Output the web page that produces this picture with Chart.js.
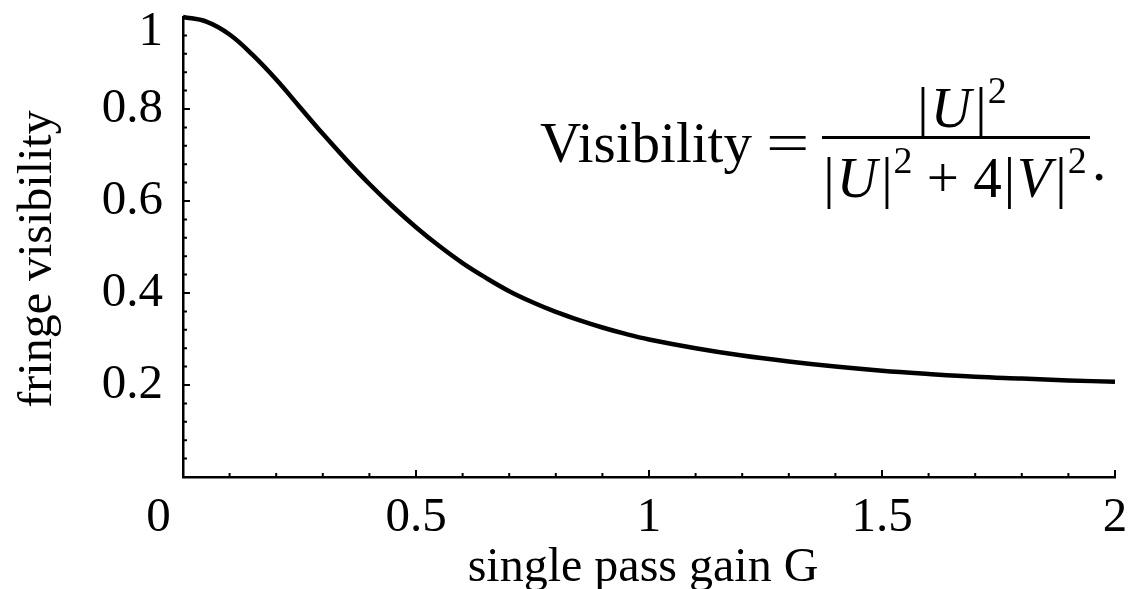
<!DOCTYPE html>
<html>
<head>
<meta charset="utf-8">
<script src="https://cdn.jsdelivr.net/npm/chart.js@4.4.0/dist/chart.umd.min.js"></script>
<style>
  html, body { margin: 0; padding: 0; background: #fff; }
  #wrap { width: 1128px; height: 589px; }
</style>
</head>
<body>
<div id="wrap"><canvas id="chart"></canvas></div>
<script>
// values
const gain = [0, 0.05, 0.1, 0.15, 0.2, 0.25, 0.3, 0.35, 0.4, 0.45, 0.5,
              0.55, 0.6, 0.65, 0.7, 0.75, 0.8, 0.85, 0.9, 0.95, 1.0,
              1.1, 1.2, 1.3, 1.4, 1.5, 1.6, 1.7, 1.8, 1.9, 2.0];
const visibility = [1.000, 0.990, 0.962, 0.917, 0.864, 0.805, 0.746, 0.690, 0.637, 0.588, 0.543,
                    0.502, 0.465, 0.433, 0.404, 0.380, 0.359, 0.341, 0.325, 0.311, 0.299,
                    0.280, 0.264, 0.251, 0.240, 0.231, 0.224, 0.218, 0.214, 0.210, 0.207];
const xTicks = [0, 0.5, 1, 1.5, 2];
const yTicks = [0.2, 0.4, 0.6, 0.8, 1];
const xMinorStep = 0.1;
const yMinorStep = 0.04;

const serif = '"Liberation Serif", "Times New Roman", serif';

// ticks drawn inward from the axes, like the original
const innerTicks = {
  id: "innerTicks",
  afterDraw(chart) {
    const ctx = chart.ctx;
    const x = chart.scales.x, y = chart.scales.y;
    const area = chart.chartArea;
    ctx.save();
    ctx.strokeStyle = "#000";
    ctx.lineWidth = 2;
    ctx.beginPath();
    for (let i = 1; i * xMinorStep <= 2 + 1e-9; i++) {
      const major = i % 5 === 0;
      const px = x.getPixelForValue(i * xMinorStep);
      ctx.moveTo(px, area.bottom);
      ctx.lineTo(px, area.bottom - (major ? 7 : 4));
    }
    for (let i = 1; i * yMinorStep <= 1 + 1e-9; i++) {
      const major = i % 5 === 0;
      const py = y.getPixelForValue(i * yMinorStep);
      ctx.moveTo(area.left, py);
      ctx.lineTo(area.left + (major ? 7 : 4), py);
    }
    ctx.stroke();
    ctx.restore();
  }
};

function drawPieces(ctx, pieces, cx, baseline, centered) {
  let w = 0;
  pieces.forEach(p => { ctx.font = p[1]; w += ctx.measureText(p[0]).width + (p[3] || 0); });
  let px = centered ? cx - w / 2 : cx;
  pieces.forEach(p => {
    ctx.font = p[1];
    ctx.fillText(p[0], px, baseline + p[2]);
    px += ctx.measureText(p[0]).width + (p[3] || 0);
  });
}

// the formula in the upper right
const formula = {
  id: "formula",
  afterDraw(chart) {
    const ctx = chart.ctx;
    const rm = "57px " + serif, it = "italic 56px " + serif, sm = "38px " + serif;
    ctx.save();
    ctx.fillStyle = "#000";
    ctx.textBaseline = "alphabetic";
    ctx.textAlign = "left";
    ctx.font = "57px " + serif;
    ctx.fillText("Visibility", 540, 162);
    ctx.save();
    ctx.translate(766, 162);
    ctx.scale(1.35, 1);
    ctx.fillText("=", 0, 0);
    ctx.restore();
    ctx.fillRect(822, 136, 268, 3);
    const absU = [["|", rm, 0, 2], ["U", it, 0, 4], ["|", rm, 0, 1], ["2", sm, -24, 0]];
    drawPieces(ctx, absU, 962, 127, true);
    const den = absU.concat([[" + 4", rm, 0, 2], ["|", rm, 0, 2], ["V", it, 0, 4], ["|", rm, 0, 1], ["2", sm, -24, 0]]);
    drawPieces(ctx, den, 955, 197, true);
    ctx.font = rm;
    ctx.fillText(".", 1092, 180);
    ctx.restore();
  }
};

new Chart(document.getElementById("chart"), {
  type: "line",
  data: {
    datasets: [{
      data: gain.map((g, i) => ({ x: g, y: visibility[i] })),
      borderColor: "#000",
      borderWidth: 4.5,
      pointRadius: 0,
      tension: 0.4,
      fill: false,
      clip: false
    }]
  },
  options: {
    responsive: true,
    maintainAspectRatio: false,
    animation: false,
    devicePixelRatio: 1,
    layout: { padding: { top: 17, right: 13, left: 0, bottom: 0 } },
    plugins: {
      legend: { display: false },
      tooltip: { enabled: false }
    },
    scales: {
      x: {
        type: "linear",
        min: 0,
        max: 2,
        afterBuildTicks: s => { s.ticks = xTicks.map(v => ({ value: v })); },
        afterFit: s => { s.height = 112; s.paddingLeft = 0; s.paddingRight = 0; },
        ticks: {
          color: "#000",
          font: { family: serif, size: 49 },
          padding: 12,
          maxRotation: 0,
          autoSkip: false,
          // the origin label sits left of the corner in the original
          callback: v => v === 0 ? "0    " : String(v)
        },
        grid: { display: true, drawOnChartArea: false, drawTicks: false },
        border: { display: true, color: "#000", width: 2.5 },
        title: {
          display: true,
          text: "single pass gain G ",
          color: "#000",
          font: { family: serif, size: 48, lineHeight: 0.85 },
          padding: { top: 0, bottom: 0 }
        }
      },
      y: {
        min: 0,
        max: 1,
        afterBuildTicks: s => { s.ticks = yTicks.map(v => ({ value: v })); },
        afterFit: s => { s.width = 183; s.paddingTop = 0; s.paddingBottom = 0; },
        ticks: {
          color: "#000",
          font: c => ({ family: serif, size: 49, lineHeight: c.tick && c.tick.value === 1 ? 0.6 : 1.2 }),
          padding: 20,
          autoSkip: false,
          // the top label hangs below its tick in the original
          callback: v => v === 1 ? ["", "1"] : String(v)
        },
        grid: { display: true, drawOnChartArea: false, drawTicks: false },
        border: { display: true, color: "#000", width: 2.5 },
        title: {
          display: true,
          text: "fringe visibility  ",
          color: "#000",
          font: { family: serif, size: 48, lineHeight: 1 },
          padding: { top: 14, bottom: 0 }
        }
      }
    }
  },
  plugins: [innerTicks, formula]
});
</script>
</body>
</html>
